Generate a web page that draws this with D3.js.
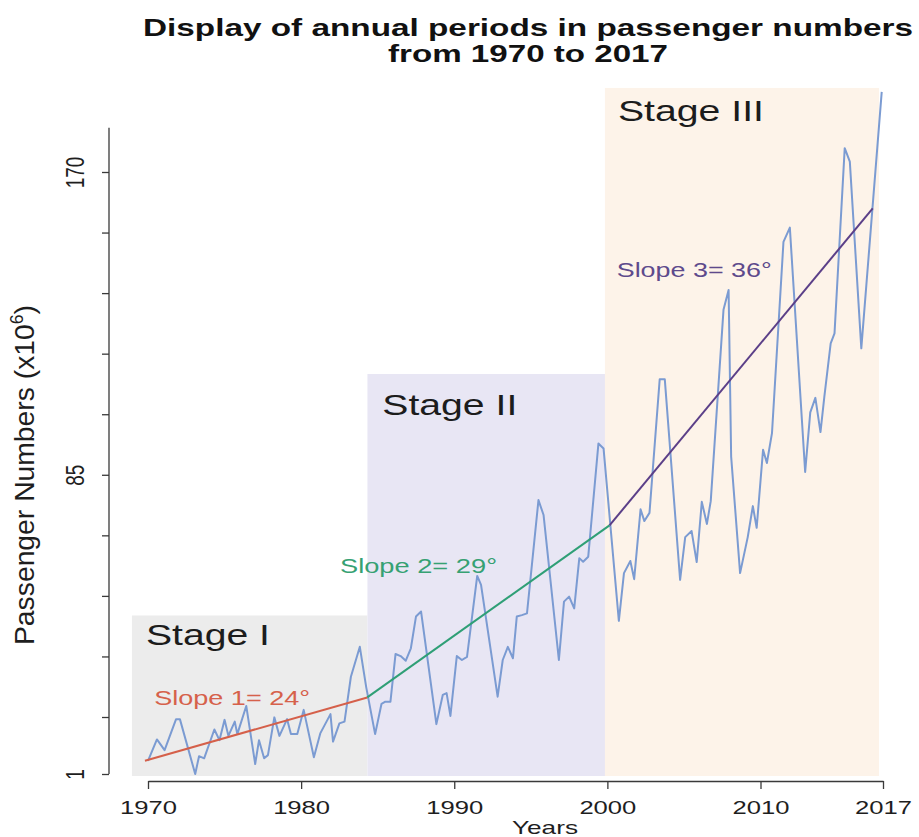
<!DOCTYPE html>
<html>
<head>
<meta charset="utf-8">
<script src="https://cdn.jsdelivr.net/npm/d3@7"></script>
<style>
  body { margin: 0; background: #fff; }
  svg { display: block; font-family: "Liberation Sans", Arial, Helvetica, sans-serif; }
</style>
</head>
<body>
<div id="chart"></div>
<script>
// passenger numbers (x10^6) at the line's turning points
const months = [
  "1970-01","1970-08","1971-02","1971-11","1972-02","1973-02","1973-05","1973-09","1974-05","1974-09",
  "1975-01","1975-04","1975-09","1975-11","1976-06","1977-01","1977-04","1977-08","1977-11","1978-04",
  "1978-08","1979-02","1979-05","1979-10","1980-03","1980-11","1981-04","1981-12","1982-02","1982-07",
  "1982-11","1983-04","1983-11","1984-04","1984-11","1985-04","1985-07","1985-11","1986-03","1986-07",
  "1986-11","1987-03","1987-07","1987-11","1988-11","1989-04","1989-07","1989-10","1990-03","1990-07",
  "1990-11","1991-07","1991-10","1992-11","1993-03","1993-07","1993-11","1994-02","1994-06","1994-10",
  "1995-07","1995-11","1996-11","1997-03","1997-07","1997-11","1998-03","1998-06","1998-10","1999-06",
  "1999-10","2000-10","2001-02","2001-07","2001-10","2002-03","2002-06","2002-10","2003-06","2003-10",
  "2004-10","2005-02","2005-07","2005-11","2006-03","2006-07","2006-10","2007-08","2007-12","2008-02",
  "2008-09","2009-03","2009-07","2009-10","2010-03","2010-06","2010-10","2011-07","2011-12","2012-12",
  "2013-04","2013-08","2013-12","2014-03","2014-08","2014-11","2015-07","2015-11","2016-08","2017-12"
];
const passengers = [
  4.7, 10.7, 7.7, 16.4, 16.4, 1.0, 6.0, 5.4, 13.5, 10.5,
  16.2, 11.7, 15.7, 12.2, 20.1, 3.8, 10.5, 5.4, 6.3, 16.9,
  11.7, 16.4, 12.2, 12.2, 19.0, 5.7, 12.4, 17.8, 10.1, 15.2,
  15.7, 28.3, 36.7, 25.4, 12.2, 20.7, 21.3, 21.3, 34.7, 34.1,
  32.8, 36.3, 45.2, 46.6, 15.0, 23.2, 23.7, 17.3, 34.1, 33.0,
  33.9, 56.6, 54.1, 22.7, 33.0, 36.7, 33.5, 45.2, 45.6, 46.1,
  77.9, 73.7, 33.0, 49.4, 50.8, 47.5, 61.6, 60.6, 62.0, 93.8,
  92.4, 44.0, 57.4, 60.8, 55.7, 75.3, 72.0, 74.3, 111.8, 111.8,
  55.5, 67.5, 69.2, 60.5, 77.4, 71.2, 77.6, 131.3, 136.9, 90.1,
  57.4, 67.5, 76.2, 70.1, 92.0, 88.3, 96.7, 150.4, 154.4, 85.8,
  102.5, 106.6, 97.0, 106.8, 121.9, 124.7, 176.7, 172.9, 120.5, 192.5
];

// stages (decimal years) and the height of each shaded block
const stageNames = ["Stage I", "Stage II", "Stage III"];
const stageStart = [1968.95, 1984.33, 1999.84];
const stageEnd = [1984.33, 1999.84, 2017.74];
const stageTop = [45.5, 113.3, 193.6];

// piecewise trend line breakpoints
const trendYears = [1969.8, 1984.32, 2000.14, 2017.33];
const trendValues = [4.7, 22.5, 70.8, 159.8];
const slopeLabels = ["Slope 1= 24°", "Slope 2= 29°", "Slope 3= 36°"];

const xTickYears = [1970, 1980, 1990, 2000, 2010, 2018];
const xTickLabels = ["1970", "1980", "1990", "2000", "2010", "2017"];
const yTicks = [1, 17, 34, 51, 68, 85, 102, 119, 136, 153, 170];
const yLabelled = [1, 85, 170];
const yAxisTop = 182.4;

const width = 919, height = 837;
const stageFill = ["#ececec", "#e8e6f4", "#fdf3e9"];
const slopeColor = ["#d5604a", "#2f9f76", "#5b3f88"];
const slopeText = ["#d6614b", "#36a173", "#5e4a8c"];
const SX = 1.35; // the figure is stretched sideways

const svg = d3.select("#chart").append("svg")
  .attr("width", width)
  .attr("height", height);

const x = d3.scaleLinear().domain([1970, 2018]).range([148, 883]);
const y = d3.scaleLinear().domain([1, 170]).range([774, 172]);
const plotBottom = 776;

const series = months.map((m, i) => {
  const [yr, mo] = m.split("-").map(Number);
  return { t: yr + (mo - 1) / 12, v: passengers[i] };
});

// stage blocks
const stages = stageNames.map((name, i) => ({
  name, x0: stageStart[i], x1: stageEnd[i], top: stageTop[i], fill: stageFill[i]
}));

svg.append("g")
  .selectAll("rect")
  .data(stages)
  .join("rect")
  .attr("x", d => x(d.x0))
  .attr("y", d => y(d.top))
  .attr("width", d => x(d.x1) - x(d.x0))
  .attr("height", d => plotBottom - y(d.top))
  .attr("fill", d => d.fill);

// stage titles: [year, value, width]
const stageLabelPos = [[1969.87, 37.2, 124], [1985.3, 101.8, 135], [2000.69, 184.2, 146]];
svg.append("g")
  .selectAll("text")
  .data(stages)
  .join("text")
  .attr("x", (d, i) => x(stageLabelPos[i][0]))
  .attr("y", (d, i) => y(stageLabelPos[i][1]))
  .attr("textLength", (d, i) => stageLabelPos[i][2])
  .attr("lengthAdjust", "spacingAndGlyphs")
  .attr("font-size", 29)
  .attr("fill", "#1c1c1c")
  .text(d => d.name);

// passenger line
const line = d3.line().x(d => x(d.t)).y(d => y(d.v));
svg.append("path")
  .datum(series)
  .attr("d", line)
  .attr("fill", "none")
  .attr("stroke", "#7b9bd2")
  .attr("stroke-width", 2)
  .attr("stroke-linejoin", "round");

// trend segments
const segs = d3.range(3).map(i => ({
  a: [trendYears[i], trendValues[i]],
  b: [trendYears[i + 1], trendValues[i + 1]]
}));
svg.append("g")
  .selectAll("line")
  .data(segs)
  .join("line")
  .attr("x1", d => x(d.a[0]))
  .attr("y1", d => y(d.a[1]))
  .attr("x2", d => x(d.b[0]))
  .attr("y2", d => y(d.b[1]))
  .attr("stroke", (d, i) => slopeColor[i])
  .attr("stroke-width", 2);

// slope labels: [year, value, width]
const slopePos = [[1970.4, 20.4, 156], [1982.54, 57.3, 157], [2000.61, 140.6, 155]];
svg.append("g")
  .selectAll("text")
  .data(slopeLabels)
  .join("text")
  .attr("x", (d, i) => x(slopePos[i][0]))
  .attr("y", (d, i) => y(slopePos[i][1]))
  .attr("textLength", (d, i) => slopePos[i][2])
  .attr("lengthAdjust", "spacingAndGlyphs")
  .attr("font-size", 20)
  .attr("fill", (d, i) => slopeText[i])
  .text(d => d);

// x axis
const xAxis = svg.append("g")
  .attr("transform", "translate(0,781)")
  .call(d3.axisBottom(x)
    .tickValues(xTickYears)
    .tickFormat((d, i) => xTickLabels[i])
    .tickSize(8)
    .tickSizeOuter(0));
xAxis.select(".domain").attr("stroke", "#3a3a3a").attr("stroke-width", 1.3);
xAxis.selectAll(".tick line").attr("stroke", "#3a3a3a").attr("stroke-width", 1.3);
xAxis.selectAll(".tick text")
  .attr("y", 32.5)
  .attr("dy", 0)
  .attr("font-size", 19)
  .attr("font-family", null)
  .attr("fill", "#1e1e1e")
  .attr("textLength", 57)
  .attr("lengthAdjust", "spacingAndGlyphs");

// y axis
const yAxis = svg.append("g")
  .attr("transform", "translate(109,0)")
  .call(d3.axisLeft(y)
    .tickValues(yTicks)
    .tickFormat(d => yLabelled.includes(d) ? String(d) : "")
    .tickSize(7)
    .tickSizeOuter(0));
yAxis.select(".domain").remove();
yAxis.append("line")
  .attr("y1", y(1))
  .attr("y2", y(yAxisTop))
  .attr("stroke", "#3a3a3a")
  .attr("stroke-width", 1.3);
yAxis.selectAll(".tick line").attr("stroke", "#3a3a3a").attr("stroke-width", 1.3);
yAxis.selectAll(".tick text")
  .attr("x", null)
  .attr("dy", null)
  .attr("text-anchor", "middle")
  .attr("font-size", 19)
  .attr("font-family", null)
  .attr("fill", "#1e1e1e")
  .attr("transform", `translate(-25,0) scale(${SX},1) rotate(-90)`);

// axis titles
svg.append("text")
  .attr("x", 545)
  .attr("y", 834)
  .attr("text-anchor", "middle")
  .attr("font-size", 19)
  .attr("fill", "#1e1e1e")
  .attr("textLength", 66)
  .attr("lengthAdjust", "spacingAndGlyphs")
  .text("Years");

const yTitle = svg.append("text")
  .attr("transform", `translate(34,475) scale(${SX},1) rotate(-90)`)
  .attr("text-anchor", "middle")
  .attr("font-size", 21)
  .attr("fill", "#1e1e1e")
  .attr("textLength", 340)
  .attr("lengthAdjust", "spacingAndGlyphs");
yTitle.append("tspan").text("Passenger Numbers (x10");
yTitle.append("tspan").attr("font-size", 13).attr("dy", -8).text("6");
yTitle.append("tspan").attr("dy", 8).text(")");

// chart title
const title = svg.append("g")
  .attr("font-weight", "bold")
  .attr("font-size", 24)
  .attr("fill", "#111");
title.append("text")
  .attr("x", 143).attr("y", 36)
  .attr("textLength", 770)
  .attr("lengthAdjust", "spacingAndGlyphs")
  .text("Display of annual periods in passenger numbers");
title.append("text")
  .attr("x", 388).attr("y", 62)
  .attr("textLength", 280)
  .attr("lengthAdjust", "spacingAndGlyphs")
  .text("from 1970 to 2017");
</script>
</body>
</html>
